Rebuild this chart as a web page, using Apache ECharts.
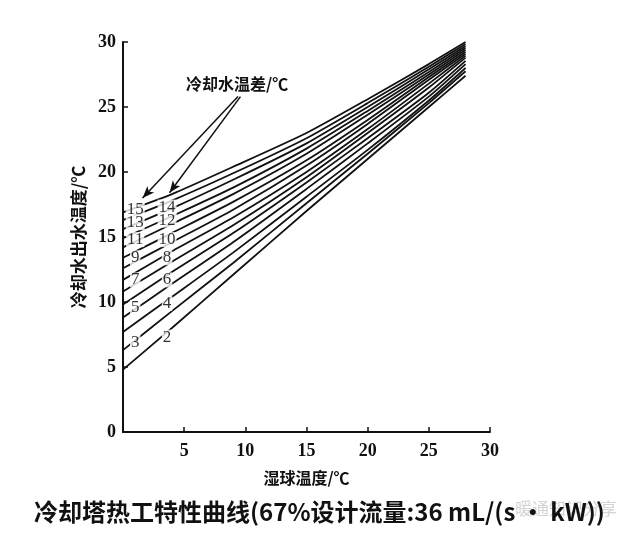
<!DOCTYPE html>
<html><head><meta charset="utf-8">
<script src="https://cdn.jsdelivr.net/npm/echarts@6/dist/echarts.min.js"></script>
<style>html,body{margin:0;padding:0;background:#fff}#c{width:640px;height:547px}</style>
</head><body><div id="c"></div>
<script>
// Wet-bulb temperature sample points (°C)
const wetBulb = [0, 4, 9, 15, 20, 25, 28];
// Cooling water temperature difference (°C) for each curve
const tempDiffs = [15, 14, 13, 12, 11, 10, 9, 8, 7, 6, 5, 4, 3, 2];
// Outlet water temperature for each curve at the wet-bulb points
const curve15 = [16.9, 18.3, 20.4, 23.0, 25.6, 28.3, 30.0];
const curve14 = [16.3, 17.8, 19.9, 22.6, 25.3, 28.1, 29.85];
const curve13 = [15.6, 17.2, 19.4, 22.2, 25.0, 27.9, 29.7];
const curve12 = [14.9, 16.6, 18.8, 21.8, 24.7, 27.7, 29.55];
const curve11 = [14.2, 16.0, 18.3, 21.4, 24.4, 27.5, 29.4];
const curve10 = [13.4, 15.3, 17.7, 20.9, 24.0, 27.3, 29.25];
const curve9  = [12.6, 14.6, 17.1, 20.5, 23.7, 27.1, 29.1];
const curve8  = [11.7, 13.9, 16.5, 20.0, 23.3, 26.8, 28.95];
const curve7  = [10.8, 13.1, 15.9, 19.6, 23.0, 26.5, 28.8];
const curve6  = [9.8, 12.3, 15.3, 19.2, 22.6, 26.1, 28.55];
const curve5  = [8.8, 11.4, 14.6, 18.7, 22.2, 25.8, 28.3];
const curve4  = [7.7, 10.4, 13.8, 18.1, 21.7, 25.5, 28.0];
const curve3  = [6.3, 9.3, 13.0, 17.6, 21.4, 25.3, 27.75];
const curve2  = [4.8, 8.0, 12.1, 17.0, 21.0, 25.0, 27.4];
const curves = [curve15, curve14, curve13, curve12, curve11, curve10, curve9, curve8, curve7, curve6, curve5, curve4, curve3, curve2];
// Curve label positions (wet-bulb, outlet temp)
const labelX = [1.0, 3.6, 1.0, 3.6, 1.0, 3.6, 1.0, 3.6, 1.0, 3.6, 1.0, 3.6, 1.0, 3.6];
const labelY = [17.1, 17.3, 16.1, 16.3, 14.8, 14.8, 13.4, 13.4, 11.7, 11.7, 9.6, 9.9, 6.9, 7.3];
// Tick labels
const xTicks = [0, 5, 10, 15, 20, 25, 30];
const yTicks = [0, 5, 10, 15, 20, 25, 30];
// Annotation arrows (wet-bulb, outlet temp)
const arrowStart = [9.4, 25.8];
const arrowEnd1 = [1.6, 18.0];
const arrowEnd2 = [3.8, 18.4];

const chart = echarts.init(document.getElementById('c'));
const series = curves.map((c, i) => ({
  type: 'line', name: String(tempDiffs[i]),
  data: wetBulb.map((x, k) => [x, c[k]]),
  smooth: 0.2, symbol: 'none', silent: true,
  lineStyle: { color: '#111', width: 1.8 }, z: 2
}));
series.push({
  type: 'scatter', symbolSize: 0, z: 5, silent: true,
  data: tempDiffs.map((d, i) => ({ value: [labelX[i], labelY[i]], name: String(d) })),
  label: { show: true, position: 'inside', formatter: p => p.name,
    fontFamily: 'Liberation Serif', fontSize: 17, color: '#000',
    backgroundColor: '#fff', padding: [0, 1], lineHeight: 15 },
  markLine: {
    silent: true, symbol: ['none', 'arrow'], symbolSize: [7, 12],
    label: { show: false },
    lineStyle: { color: '#111', width: 1.5, type: 'solid' },
    data: [
      [{ coord: arrowStart }, { coord: arrowEnd1 }],
      [{ coord: [arrowStart[0] + 0.2, arrowStart[1]] }, { coord: arrowEnd2 }]
    ]
  }
});
const axisFont = { fontFamily: 'Liberation Serif', fontWeight: 'bold', fontSize: 18, color: '#111' };
chart.setOption({
  animation: false,
  backgroundColor: '#fff',
  grid: { left: 123, right: 150, top: 42, bottom: 115 },
  xAxis: {
    type: 'value', min: xTicks[0], max: xTicks[xTicks.length - 1], interval: 5,
    name: '湿球温度/℃', nameLocation: 'middle', nameGap: 38,
    nameTextStyle: { fontFamily: 'Noto Sans CJK SC', fontWeight: 'bold', fontSize: 16, color: '#111' },
    axisLine: { lineStyle: { color: '#111', width: 2 } },
    axisTick: { inside: true, length: 5, lineStyle: { color: '#111', width: 1.5 } },
    axisLabel: Object.assign({ margin: 10, formatter: v => v === 0 ? '' : String(v) }, axisFont),
    splitLine: { show: false }
  },
  yAxis: {
    type: 'value', min: yTicks[0], max: yTicks[yTicks.length - 1], interval: 5,
    name: '冷却水出水温度/℃', nameLocation: 'middle', nameGap: 36, nameRotate: 90,
    nameTextStyle: { fontFamily: 'Noto Sans CJK SC', fontWeight: 'bold', fontSize: 17, color: '#111' },
    axisLine: { lineStyle: { color: '#111', width: 2 } },
    axisTick: { inside: true, length: 5, lineStyle: { color: '#111', width: 1.5 } },
    axisLabel: Object.assign({ margin: 7 }, axisFont),
    splitLine: { show: false }
  },
  graphic: [
    { type: 'text', left: 186, top: 76, style: { text: '冷却水温差/℃', fontFamily: 'Noto Sans CJK SC', fontWeight: 'bold', fontSize: 16, fill: '#111' } },
    { type: 'text', left: 515, top: 500, z: -1, style: { text: '暖通知识分享', fontFamily: 'Noto Sans CJK SC', fontSize: 17, fill: '#d4d4d4' } },
    { type: 'text', left: 34, top: 500, z: 10, style: { text: '冷却塔热工特性曲线(67%设计流量:36 mL/(s · kW))', fontFamily: 'Noto Sans CJK SC', fontWeight: 'bold', fontSize: 24, fill: '#111' } }
  ],
  series: series
});
</script></body></html>
